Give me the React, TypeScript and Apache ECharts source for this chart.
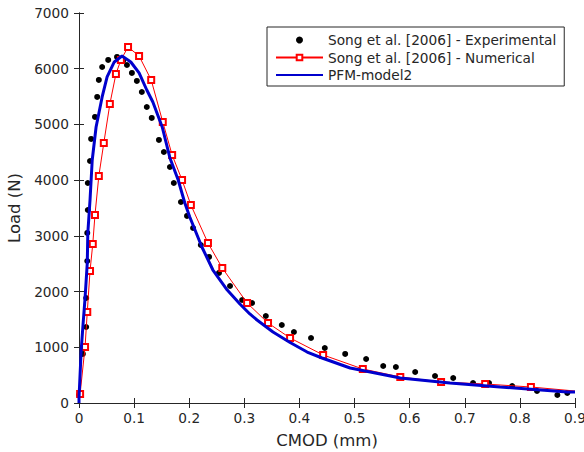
import React, { useEffect, useRef } from "react";
import * as echarts from "echarts";

// Song et al. [2006] - Experimental
const expX = [0.000, 0.007, 0.013, 0.013, 0.015, 0.015, 0.016, 0.016, 0.020, 0.022, 0.029, 0.033, 0.036, 0.042, 0.053, 0.069, 0.080, 0.087, 0.096, 0.105, 0.114, 0.123, 0.132, 0.145, 0.154, 0.165, 0.172, 0.185, 0.196, 0.207, 0.221, 0.236, 0.254, 0.274, 0.296, 0.314, 0.339, 0.368, 0.390, 0.421, 0.446, 0.483, 0.521, 0.552, 0.575, 0.610, 0.646, 0.679, 0.715, 0.744, 0.786, 0.831, 0.868, 0.886];
const expY = [144, 880, 1364, 1885, 2549, 3052, 3464, 3949, 4344, 4739, 5134, 5493, 5798, 6031, 6157, 6211, 6139, 6067, 5924, 5780, 5582, 5313, 5116, 4721, 4505, 4236, 3949, 3608, 3357, 3141, 2836, 2621, 2334, 2100, 1849, 1795, 1562, 1400, 1274, 1167, 987, 880, 790, 664, 646, 556, 485, 449, 359, 359, 305, 215, 144, 180];

// Song et al. [2006] - Numerical
const numX = [0.002, 0.011, 0.015, 0.020, 0.025, 0.029, 0.036, 0.045, 0.056, 0.067, 0.076, 0.089, 0.109, 0.131, 0.152, 0.169, 0.187, 0.203, 0.234, 0.260, 0.305, 0.343, 0.383, 0.443, 0.515, 0.583, 0.657, 0.737, 0.820, 0.900];
const numY = [162, 1005, 1633, 2369, 2854, 3375, 4075, 4667, 5367, 5906, 6157, 6390, 6229, 5798, 5044, 4452, 4003, 3554, 2872, 2423, 1795, 1436, 1167, 862, 610, 467, 377, 341, 287, 215];
const numMarked = [true, true, true, true, true, true, true, true, true, true, true, true, true, true, true, true, true, true, true, true, true, true, true, true, true, true, true, true, true, false];

// PFM-model2
const pfmX = [0.000, 0.000, 0.004, 0.007, 0.011, 0.015, 0.016, 0.020, 0.024, 0.031, 0.042, 0.051, 0.064, 0.078, 0.094, 0.109, 0.123, 0.134, 0.151, 0.165, 0.180, 0.192, 0.201, 0.223, 0.243, 0.269, 0.292, 0.310, 0.323, 0.352, 0.383, 0.414, 0.441, 0.492, 0.583, 0.673, 0.764, 0.886, 0.900];
const pfmY = [0, 90, 951, 1364, 1885, 2513, 3052, 3644, 4362, 4954, 5493, 5852, 6121, 6229, 6121, 5924, 5618, 5403, 4954, 4398, 4003, 3590, 3339, 2800, 2387, 2028, 1777, 1598, 1490, 1275, 1085, 915, 808, 628, 449, 359, 287, 197, 197];

const xTicks = { min: 0, max: 0.9, interval: 0.1 };
const yTicks = { min: 0, max: 7000, interval: 1000 };

const FONT = "DejaVu Sans";
const INK = "#262626";

export default function App() {
  const ref = useRef<HTMLDivElement>(null);
  useEffect(() => {
    if (!ref.current) return;
    const chart = echarts.init(ref.current, undefined, { renderer: "svg" });
    const axisCommon = {
      axisLine: { show: true, lineStyle: { color: INK, width: 1 } },
      axisTick: { show: true, inside: true, length: 5, lineStyle: { color: INK } },
      splitLine: { show: false },
    };
    chart.setOption({
      animation: false,
      backgroundColor: "#ffffff",
      grid: { left: 79, right: 9, top: 13, bottom: 49, containLabel: false, outerBoundsMode: "none" },
      legend: {
        orient: "vertical",
        left: 267,
        top: 27,
        padding: [6, 8, 4, 8],
        itemGap: 3.5,
        itemWidth: 47,
        itemHeight: 7,
        borderColor: INK,
        borderWidth: 1,
        backgroundColor: "#ffffff",
        textStyle: { fontFamily: FONT, fontSize: 13.7, color: INK, lineHeight: 14 },
        data: [
          { name: "Song et al. [2006] - Experimental", itemStyle: { opacity: 1 } },
          { name: "Song et al. [2006] - Numerical" },
          { name: "PFM-model2", itemStyle: { opacity: 0 } },
        ],
      },
      xAxis: [
        {
          type: "value",
          ...xTicks,
          ...axisCommon,
          name: "CMOD (mm)",
          nameLocation: "middle",
          nameGap: 29,
          nameTextStyle: { fontFamily: FONT, fontSize: 16.5, color: INK },
          axisLabel: { fontFamily: FONT, fontSize: 13.7, color: INK, margin: 8 },
        },
        {
          type: "value",
          position: "top",
          ...xTicks,
          ...axisCommon,
          axisLabel: { show: false },
        },
      ],
      yAxis: [
        {
          type: "value",
          ...yTicks,
          ...axisCommon,
          name: "Load (N)",
          nameLocation: "middle",
          nameGap: 45,
          nameTextStyle: { fontFamily: FONT, fontSize: 16.5, color: INK },
          axisLabel: {
            fontFamily: FONT,
            fontSize: 13.7,
            color: INK,
            margin: 10,
            formatter: (v: number) => String(v),
          },
        },
        {
          type: "value",
          position: "right",
          ...yTicks,
          ...axisCommon,
          axisLabel: { show: false },
        },
      ],
      series: [
        {
          name: "Song et al. [2006] - Experimental",
          type: "scatter",
          symbol: "circle",
          symbolSize: 6,
          itemStyle: { color: "#000000", opacity: 1 },
          data: expX.map((x, i) => [x, expY[i]]),
          z: 2,
        },
        {
          name: "Song et al. [2006] - Numerical",
          type: "line",
          symbol: "emptyRect",
          symbolSize: 6,
          showAllSymbol: true,
          lineStyle: { color: "#ff0000", width: 1 },
          itemStyle: { color: "#ff0000", borderWidth: 1 },
          data: numX.map((x, i) => ({
            value: [x, numY[i]],
            symbol: numMarked[i] ? "emptyRect" : "none",
          })),
          z: 3,
        },
        {
          name: "PFM-model2",
          type: "line",
          symbol: "none",
          lineStyle: { color: "#0000cd", width: 3 },
          itemStyle: { color: "#0000cd" },
          data: pfmX.map((x, i) => [x, pfmY[i]]),
          z: 4,
        },
      ],
    });
    return () => chart.dispose();
  }, []);
  return (
    <div
      ref={ref}
      style={{ position: "fixed", left: 0, top: 0, width: 584, height: 452 }}
    />
  );
}
